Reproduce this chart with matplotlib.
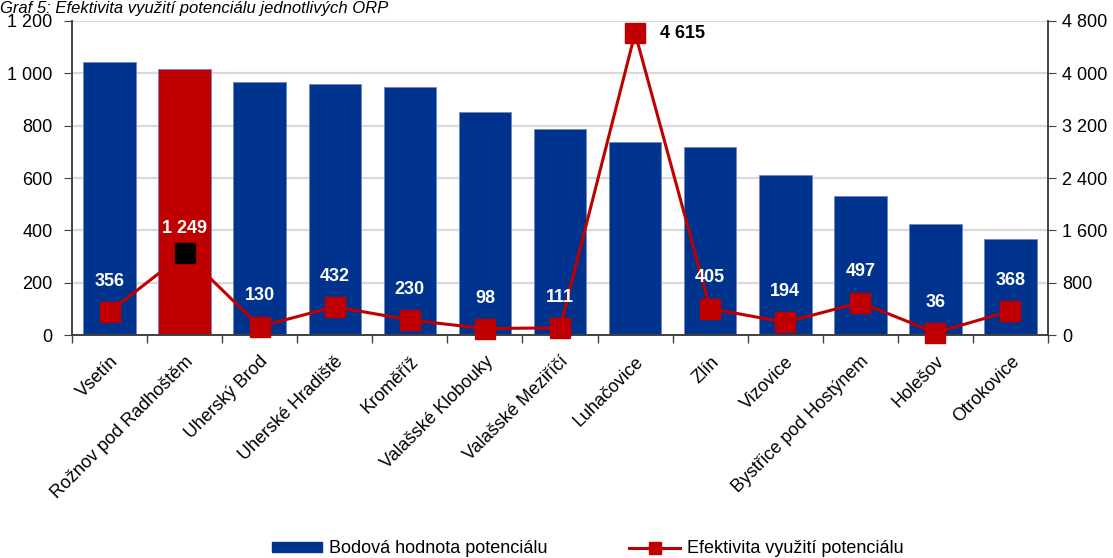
import matplotlib
matplotlib.use("Agg")
import matplotlib.pyplot as plt
from matplotlib.lines import Line2D
from matplotlib.patches import Patch
from matplotlib.ticker import FuncFormatter, FixedLocator
from matplotlib import font_manager
import numpy as np

plt.rcParams['font.family'] = ['Liberation Sans', 'DejaVu Sans']
names = {f.name for f in font_manager.fontManager.ttflist}
NARROW = ['Liberation Sans Narrow', 'Liberation Sans'] if 'Liberation Sans Narrow' in names else ['Liberation Sans']
print(NARROW)

categories = ["Vsetín", "Rožnov pod Radhoštěm", "Uherský Brod", "Uherské Hradiště",
              "Kroměříž", "Valašské Klobouky", "Valašské Meziříčí", "Luhačovice",
              "Zlín", "Vizovice", "Bystřice pod Hostýnem", "Holešov", "Otrokovice"]
potential = [1042, 1016, 967, 959, 948, 852, 787, 739, 720, 610, 530, 424, 368]
efficiency = [356, 1249, 130, 432, 230, 98, 111, 4615, 405, 194, 497, 36, 368]
left_ticks = [0, 200, 400, 600, 800, 1000, 1200]
right_ticks = [0, 800, 1600, 2400, 3200, 4000, 4800]
highlight = "Rožnov pod Radhoštěm"
peak = "Luhačovice"

BLUE = '#00338D'
RED = '#C00000'

def fmt(v, pos=None):
    return f"{int(v):,}".replace(",", " ")

fig = plt.figure(figsize=(11.13, 5.58), dpi=100)
ax = fig.add_axes([0.0647, 0.3996, 0.8769, 0.5628])
ax2 = ax.twinx()

x = np.arange(len(categories))
colors = [RED if c == highlight else BLUE for c in categories]
ax.bar(x, potential, width=0.70, color=colors, edgecolor='#6f86c0', linewidth=0.6, zorder=2)

ax.set_xlim(-0.5, len(categories) - 0.5)
ax.set_ylim(0, 1200)
ax.yaxis.set_major_locator(FixedLocator(left_ticks))
ax.yaxis.set_major_formatter(FuncFormatter(fmt))
ax.grid(axis='y', color='#d9d9d9', linewidth=1.6, zorder=0)
ax.set_axisbelow(True)

ax.set_xticks(x)
ax.set_xticklabels(categories, rotation=45, ha='right', rotation_mode='anchor', fontsize=13)
ax.tick_params(axis='x', length=0, pad=13)
ax.set_xticks(np.arange(-0.5, len(categories)), minor=True)
ax.tick_params(axis='x', which='minor', length=6, color='#404040', width=1)
ax.tick_params(axis='y', length=6, color='#404040', labelsize=13, pad=8)

for a in (ax, ax2):
    a.spines['top'].set_visible(False)
    for s in ['left', 'right', 'bottom']:
        a.spines[s].set_color('#404040')
        a.spines[s].set_linewidth(1.2)

ax2.set_ylim(0, 4800)
ax2.yaxis.set_major_locator(FixedLocator(right_ticks))
ax2.yaxis.set_major_formatter(FuncFormatter(fmt))
ax2.tick_params(axis='y', length=6, color='#404040', labelsize=13, pad=4)

ax2.plot(x, efficiency, color=RED, linewidth=2.2, marker='s', markersize=14,
         markerfacecolor=RED, markeredgecolor=RED, zorder=3, clip_on=False)
hi = categories.index(highlight)
ax2.plot([x[hi]], [efficiency[hi]], linestyle='none', marker='s', markersize=14,
         markerfacecolor='black', markeredgecolor='black', zorder=4)

for i, (c, v) in enumerate(zip(categories, efficiency)):
    if c == peak:
        ax2.annotate(fmt(v), (x[i], v), xytext=(18, 0), textcoords='offset points',
                     ha='left', va='center', fontsize=13, fontweight='bold', color='black',
                     family=NARROW, zorder=5)
    else:
        off = 18 if c == highlight else 22
        ax2.annotate(fmt(v), (x[i], v), xytext=(0, off), textcoords='offset points',
                     ha='center', va='center', fontsize=13, fontweight='bold', color='white',
                     family=NARROW, zorder=5)

fig.text(0.0, 1 - 1 / 558, "Graf 5: Efektivita využití potenciálu jednotlivých ORP",
         fontsize=12, fontstyle='italic', ha='left', va='top')

handles = [Patch(facecolor=BLUE, edgecolor=BLUE),
           Line2D([0], [0], color=RED, linewidth=2.2, marker='s', markersize=9,
                  markerfacecolor=RED, markeredgecolor=RED)]
labels = ["Bodová hodnota potenciálu", "Efektivita využití potenciálu"]
fig.legend(handles, labels, loc='lower center', bbox_to_anchor=(0.528, -0.028), ncol=2,
           frameon=False, fontsize=13, columnspacing=4.5, handlelength=2.8,
           handleheight=0.45, handletextpad=0.4)

fig.savefig("out.png", dpi=100)
